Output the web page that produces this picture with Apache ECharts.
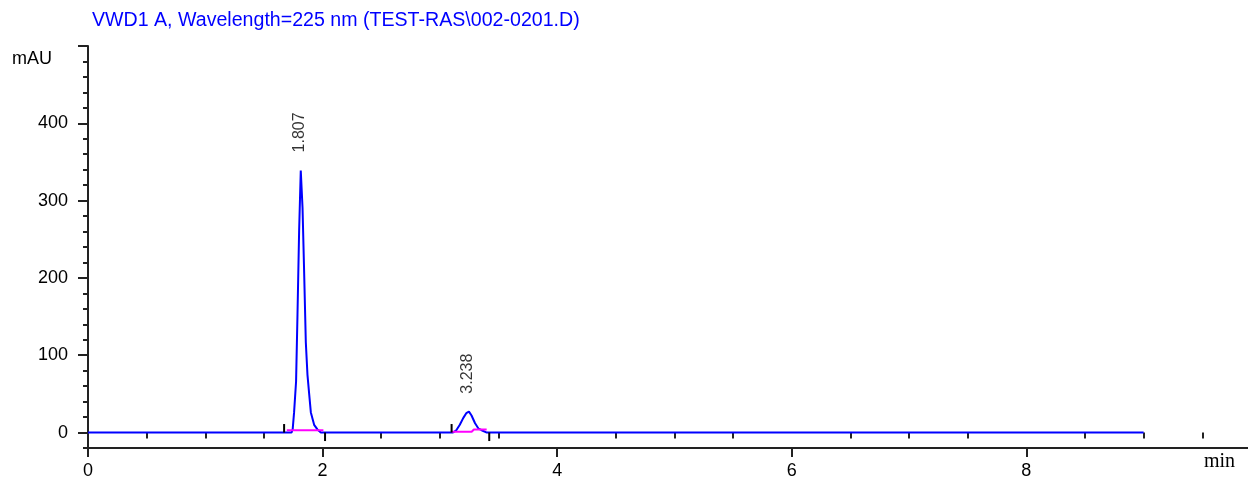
<!DOCTYPE html>
<html lang="en">
<head>
  <meta charset="utf-8">
  <title>VWD1 A chromatogram</title>
  <script src="https://cdn.jsdelivr.net/npm/echarts@6/dist/echarts.min.js"></script>
  <style>
    html, body { margin: 0; padding: 0; background: #fff; }
    #chromatogram { width: 1248px; height: 480px; }
  </style>
</head>
<body>
<div id="chromatogram"></div>

<script>
  // signal trace (min / mAU)
  var traceTime = [0, 1.735, 1.745, 1.757, 1.774, 1.786, 1.800, 1.814, 1.829, 1.843, 1.857, 1.871, 1.885, 1.900, 1.928, 1.956, 1.985,
                   3.112, 3.14, 3.17, 3.20, 3.225, 3.248, 3.27, 3.30, 3.33, 3.356, 3.40, 9.0];
  var traceMAU  = [0, 0, 4, 26, 66, 152, 261, 339, 291, 206, 117, 75, 51, 26, 10, 4, 0,
                   0, 3, 10, 19, 25, 27, 22, 12, 5, 3, 0, 0];

  // integration baselines (magenta)
  var base1Time = [1.695, 2.007];
  var base1MAU  = [3, 3];
  var base2Time = [3.100, 3.271, 3.290, 3.399];
  var base2MAU  = [1, 1, 4, 4];

  // integration start / stop marks
  var eventTime = [1.672, 2.021, 3.100, 3.421];
  var eventDir  = [1, -1, 1, -1];

  // peak labels
  var peakTime = [1.807, 3.238];
  var peakTop  = [339, 27];

  // axis ticks
  var yMajor = [0, 100, 200, 300, 400, 500];
  var yLabels = [0, 100, 200, 300, 400];
  var yMinor = [-20, 20, 40, 60, 80, 120, 140, 160, 180, 220, 240, 260, 280, 320, 340, 360, 380, 420, 440, 460, 480];
  var xMajor = [0, 2, 4, 6, 8];
  var xMinor = [0.5, 1, 1.5, 2.5, 3, 3.5, 4.5, 5, 5.5, 6.5, 7, 7.5, 8.5, 9, 9.5];

  var font = '"Liberation Sans", Arial, sans-serif';

  var chart = echarts.init(document.getElementById('chromatogram'));

  function pairs(xs, ys) {
    return xs.map(function (x, i) { return [x, ys[i]]; });
  }

  var seriesList = [
    {
      name: 'signal',
      type: 'line',
      data: pairs(traceTime, traceMAU),
      showSymbol: false,
      lineStyle: { color: '#0000ff', width: 2 },
      z: 3,
      animation: false
    },
    {
      name: 'base1',
      type: 'line',
      data: pairs(base1Time, base1MAU),
      showSymbol: false,
      lineStyle: { color: '#ff00ff', width: 2 },
      z: 4,
      animation: false
    },
    {
      name: 'base2',
      type: 'line',
      data: pairs(base2Time, base2MAU),
      showSymbol: false,
      lineStyle: { color: '#ff00ff', width: 2 },
      z: 4,
      animation: false
    }
  ];

  for (var i = 0; i < eventTime.length; ++i) {
    seriesList.push({
      type: 'line',
      data: [[eventTime[i], 0], [eventTime[i], 11 * eventDir[i]]],
      showSymbol: false,
      lineStyle: { color: '#000', width: 2 },
      z: 5,
      animation: false
    });
  }

  seriesList.push({
    type: 'scatter',
    symbolSize: 0,
    data: pairs(peakTime, peakTop),
    label: {
      show: true,
      position: 'top',
      distance: 18,
      rotate: 90,
      align: 'left',
      verticalAlign: 'middle',
      fontFamily: font,
      fontSize: 16,
      color: '#000',
      formatter: function (p) { return p.value[0].toFixed(3); }
    },
    z: 6,
    animation: false
  });

  var option = {
    backgroundColor: '#fff',
    animation: false,
    title: {
      text: 'VWD1 A, Wavelength=225 nm (TEST-RAS\\002-0201.D)',
      left: 87,
      top: 6,
      textStyle: { color: '#0000ff', fontFamily: font, fontSize: 19.6, fontWeight: 'normal' }
    },
    graphic: [
      { type: 'text', left: 12, top: 50, style: { text: 'mAU', font: '18px ' + font, fill: '#000' } },
      { type: 'text', left: 1204, top: 452, style: { text: 'min', font: '20px "Liberation Serif", "Times New Roman", serif', fill: '#000' } }
    ],
    grid: { left: 88, right: 0, top: 46, bottom: 31 },
    xAxis: [
      {
        type: 'value',
        min: 0,
        max: 9.89,
        axisLine: { show: true, onZero: false, lineStyle: { color: '#222', width: 2 } },
        axisTick: { show: true, customValues: xMajor, length: 9, lineStyle: { color: '#222', width: 2 } },
        axisLabel: { customValues: xMajor, margin: 14, fontFamily: font, fontSize: 18, color: '#000' },
        splitLine: { show: false }
      },
      {
        type: 'value',
        position: 'bottom',
        min: 0,
        max: 9.89,
        axisLine: { show: false },
        axisTick: { show: true, customValues: xMinor, length: 6, lineStyle: { color: '#222', width: 2 } },
        axisLabel: { show: false },
        splitLine: { show: false }
      }
    ],
    yAxis: [
      {
        type: 'value',
        min: -20,
        max: 500,
        axisLine: { show: true, onZero: false, lineStyle: { color: '#222', width: 2 } },
        axisTick: { show: true, customValues: yMajor, length: 10, lineStyle: { color: '#222', width: 2 } },
        axisLabel: { customValues: yLabels, margin: 20, fontFamily: font, fontSize: 18, color: '#000' },
        splitLine: { show: false }
      },
      {
        type: 'value',
        position: 'left',
        min: -20,
        max: 500,
        axisLine: { show: false },
        axisTick: { show: true, customValues: yMinor, length: 5, lineStyle: { color: '#222', width: 2 } },
        axisLabel: { show: false },
        splitLine: { show: false }
      }
    ],
    series: seriesList
  };

  chart.setOption(option);

  window.addEventListener('resize', function () {
    setTimeout(function () { chart.resize(); }, 200);
  });
</script>
</body>
</html>
